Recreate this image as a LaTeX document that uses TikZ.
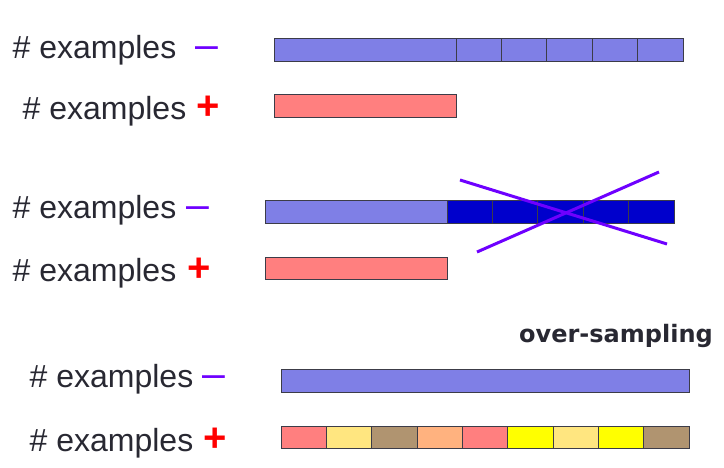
\documentclass[tikz,border=0pt]{standalone}
\usepackage{fontspec}
\setmainfont{Liberation Sans}
\newfontfamily\titlefont{DejaVu Sans}
\definecolor{negblue}{RGB}{127,127,230}
\definecolor{dropblue}{RGB}{0,0,204}
\definecolor{posred}{RGB}{255,127,127}
\definecolor{crossviolet}{RGB}{110,0,255}
\definecolor{cellyellow}{RGB}{255,230,128}
\definecolor{celltan}{RGB}{176,148,112}
\definecolor{cellpeach}{RGB}{255,178,127}
\definecolor{cellgold}{RGB}{255,255,0}
\definecolor{edge}{RGB}{60,60,72}
\definecolor{ink}{RGB}{40,40,50}

\begin{document}
\begin{tikzpicture}[x=1pt,y=-1pt,
    bar/.style={draw=edge,line width=1pt},
    lbl/.style={anchor=base west,inner sep=0pt,text=ink,font=\fontsize{32}{38}\selectfont},
    minus/.style={anchor=base west,inner sep=0pt,text=crossviolet,font=\fontsize{41}{48}\selectfont},
    plus/.style={anchor=base west,inner sep=0pt,text=red,font=\bfseries\fontsize{40}{48}\selectfont},
    cross/.style={crossviolet,line width=3pt}]
  \useasboundingbox (0,0) rectangle (724,468);

  % original data
  \node[lbl] (negA) at (12.5,59) {\# examples};
  \node[minus] (minusA) at (195,59) {–};
  \node[lbl] (posA) at (22.5,120) {\# examples};
  \node[plus] (plusA) at (195.8,120) {+};

  \draw[bar,fill=negblue] (274,38.5) rectangle (456,61.5);
  \draw[bar,fill=negblue] (456,38.5) rectangle (501.4,61.5);
  \draw[bar,fill=negblue] (501.4,38.5) rectangle (546.8,61.5);
  \draw[bar,fill=negblue] (546.8,38.5) rectangle (592.2,61.5);
  \draw[bar,fill=negblue] (592.2,38.5) rectangle (637.6,61.5);
  \draw[bar,fill=negblue] (637.6,38.5) rectangle (683,61.5);
  \draw[bar,fill=posred] (274,95) rectangle (456,118);

  % under-sampling
  \node[lbl] (negB) at (12.5,219) {\# examples};
  \node[minus] (minusB) at (186,219) {–};
  \node[lbl] (posB) at (12.5,282) {\# examples};
  \node[plus] (plusB) at (186.8,282) {+};

  \draw[bar,fill=negblue] (265,201) rectangle (447,224);
  \draw[bar,fill=dropblue] (447,201) rectangle (492.4,224);
  \draw[bar,fill=dropblue] (492.4,201) rectangle (537.8,224);
  \draw[bar,fill=dropblue] (537.8,201) rectangle (583.2,224);
  \draw[bar,fill=dropblue] (583.2,201) rectangle (628.6,224);
  \draw[bar,fill=dropblue] (628.6,201) rectangle (674,224);
  \draw[bar,fill=posred] (265,258) rectangle (447,280);

  \draw[cross] (460,180) -- (667,244);
  \draw[cross] (477,252) -- (659,172);

  % over-sampling
  \node[anchor=base west,inner sep=0pt,text=ink,font=\titlefont\bfseries\fontsize{24}{29}\selectfont] (title) at (519,342) {over-sampling};

  \node[lbl] (negC) at (29.5,387) {\# examples};
  \node[minus] (minusC) at (202,387) {–};
  \node[lbl] (posC) at (29.5,451) {\# examples};
  \node[plus] (plusC) at (202.8,451) {+};

  \draw[bar,fill=negblue] (281,369) rectangle (689,392);
  \draw[bar,fill=posred] (281,426) rectangle (326.3,448);
  \draw[bar,fill=cellyellow] (326.3,426) rectangle (371.7,448);
  \draw[bar,fill=celltan] (371.7,426) rectangle (417,448);
  \draw[bar,fill=cellpeach] (417,426) rectangle (462.3,448);
  \draw[bar,fill=posred] (462.3,426) rectangle (507.7,448);
  \draw[bar,fill=cellgold] (507.7,426) rectangle (553,448);
  \draw[bar,fill=cellyellow] (553,426) rectangle (598.3,448);
  \draw[bar,fill=cellgold] (598.3,426) rectangle (643.7,448);
  \draw[bar,fill=celltan] (643.7,426) rectangle (689,448);
\end{tikzpicture}
\end{document}
